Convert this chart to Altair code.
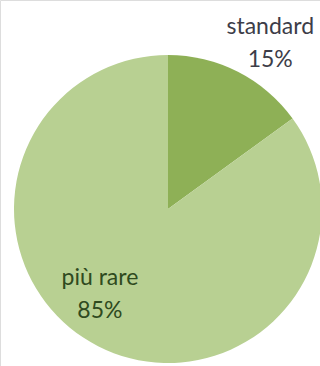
import altair as alt
import pandas as pd

# Share of the two categories
categories = ["standard", "più rare"]
shares = [15, 85]
order = [0, 1]

df = pd.DataFrame({"categoria": categories, "quota": shares, "ordine": order})
df["etichetta"] = [f"{c}\n{v}%" for c, v in zip(categories, shares)]

slice_colors = ["#8eb056", "#b8d092"]

base = alt.Chart(df).encode(
    theta=alt.Theta("quota:Q", stack=True),
    order=alt.Order("ordine:O"),
)

pie = base.mark_arc(radius=154, stroke=None).encode(
    x=alt.value(168),
    y=alt.value(209),
    color=alt.Color(
        "categoria:N",
        scale=alt.Scale(domain=categories, range=slice_colors),
        legend=None,
    ),
)

label_style = dict(font="Lato", fontSize=23, lineBreak="\n", lineHeight=33, align="center", baseline="middle")

outer_label = base.mark_text(radius=209, thetaOffset=0.04, color="#3d3d48", **label_style).encode(
    x=alt.value(168),
    y=alt.value(209),
    text="etichetta:N",
    opacity=alt.condition(alt.datum.categoria == "standard", alt.value(1), alt.value(0)),
)

inner_label = base.mark_text(radius=97, thetaOffset=0.307, color="#2f4a1e", **label_style).encode(
    x=alt.value(168),
    y=alt.value(209),
    text="etichetta:N",
    opacity=alt.condition(alt.datum.categoria == "più rare", alt.value(1), alt.value(0)),
)

chart = (
    alt.layer(pie, outer_label, inner_label)
    .properties(width=320, height=366, padding=0, autosize=alt.AutoSizeParams(type="none"))
    .configure_view(stroke=None)
    .configure(background="white")
)

chart.save("out.html", embed_options={"renderer": "svg", "actions": False})
